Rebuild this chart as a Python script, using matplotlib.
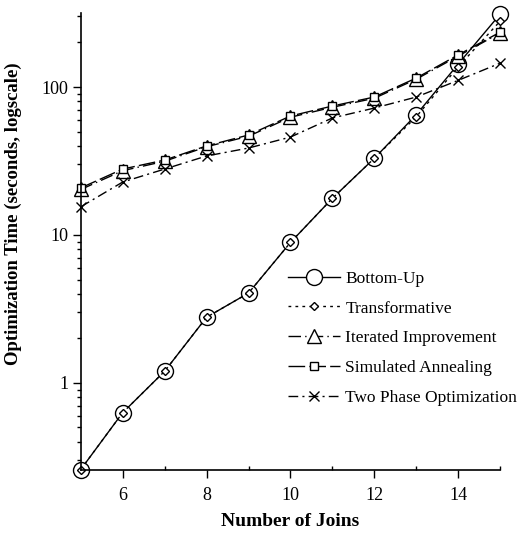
import matplotlib.pyplot as plt
from matplotlib.ticker import FixedLocator, NullFormatter

plt.rcParams['font.family'] = ['Liberation Serif', 'DejaVu Serif']
plt.rcParams['font.size'] = 13

joins = [5, 6, 7, 8, 9, 10, 11, 12, 13, 14, 15]

bottom_up = [0.26, 0.63, 1.2, 2.78, 4.05, 8.9, 17.7, 33, 65, 143, 311]
transformative = [0.26, 0.63, 1.2, 2.78, 4.05, 8.9, 17.7, 33, 63, 137, 279]
iterated = [20.3, 27.2, 31.5, 39.5, 46.5, 62.5, 73, 84, 113, 162, 232]
simulated = [20.8, 27.9, 32.1, 40, 47.4, 63.7, 74.4, 85.6, 115, 165, 235]
two_phase = [15.5, 22.8, 27.9, 34.2, 38.7, 45.9, 61.8, 72.1, 85.6, 111, 145]

fig = plt.figure(figsize=(5.21, 5.35), dpi=100)
ax = fig.add_axes([0.155, 0.1215, 0.805, 0.854])

lw = 1.0
ax.plot(joins, bottom_up, color='black', lw=lw, linestyle='-', marker='o',
        ms=11.5, mfc='white', mec='black', mew=1.0, label='Bottom-Up', clip_on=False)
ax.plot(joins, transformative, color='black', lw=lw, linestyle=(0, (2, 3)), marker='D',
        ms=4.5, mfc='white', mec='black', mew=1.0, label='Transformative', clip_on=False)
ax.plot(joins, iterated, color='black', lw=lw, linestyle=(0, (9, 3, 1, 3)), marker='^',
        ms=10, mfc='white', mec='black', mew=1.0, label='Iterated Improvement', clip_on=False)
ax.plot(joins, simulated, color='black', lw=lw, linestyle=(0, (12, 3)), marker='s',
        ms=6, mfc='white', mec='black', mew=1.0, label='Simulated Annealing', clip_on=False)
ax.plot(joins, two_phase, color='black', lw=lw, linestyle=(0, (7, 3, 1.5, 3)), marker='x',
        ms=7, mec='black', mew=1.0, label='Two Phase Optimization', clip_on=False)

ax.set_yscale('log')
ax.set_xlim(5, 15)
ax.set_ylim(0.258, 316)

ax.set_yticks([1, 10, 100])
ax.set_yticklabels(['1', '10', '100'])
ax.yaxis.set_minor_formatter(NullFormatter())
ax.set_xticks([6, 8, 10, 12, 14])
ax.xaxis.set_minor_locator(FixedLocator([7, 9, 11, 13, 15]))

ax.tick_params(axis='y', which='major', direction='out', length=6, width=1, pad=3)
ax.tick_params(axis='y', which='minor', direction='out', length=3, width=1)
ax.tick_params(axis='x', which='major', direction='out', length=6, width=1, pad=6)
ax.tick_params(axis='x', which='minor', direction='in', length=3, width=1)

for side in ['top', 'right']:
    ax.spines[side].set_visible(False)
for side in ['left', 'bottom']:
    ax.spines[side].set_linewidth(1.2)

ax.set_xlabel('Number of Joins', fontweight='bold', fontsize=14)
ax.set_ylabel('Optimization Time (seconds, logscale)', fontweight='bold', fontsize=13.5)
ax.xaxis.set_label_coords(0.5, -0.095)
ax.yaxis.set_label_coords(-0.14, 0.56)

ax.legend(loc='upper left', bbox_to_anchor=(0.553, 0.494), bbox_transform=fig.transFigure,
          frameon=False, handlelength=3.0, labelspacing=0.78, handletextpad=0.3,
          borderpad=0, borderaxespad=0, fontsize=12.5)

fig.savefig('out.png', dpi=100)
